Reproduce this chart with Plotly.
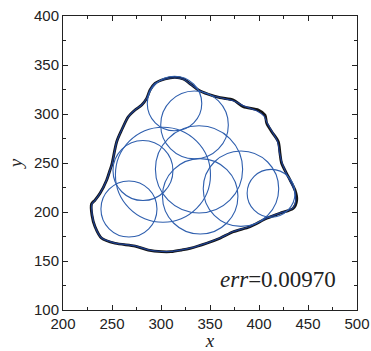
import plotly.graph_objects as go

# circles (center x, center y, radius) in data units
circle_cx = [313.8, 334.2, 338.8, 281.6, 267.3, 302.0, 340.0, 381.6, 412.3]
circle_cy = [310.7, 288.9, 243.5, 242.3, 203.1, 238.0, 216.0, 223.8, 219.1]
circle_r = [27.8, 34.5, 44.5, 30.6, 28.6, 48.5, 38.5, 38.5, 24.4]

# target boundary (black)
shape_x = [314.3, 322.8, 331.3, 338.1, 348.3, 360.2, 373.8, 384.0, 399.3, 406.1, 407.9, 413.0,
           419.7, 421.4, 423.0, 429.9, 436.7, 438.5, 435.0, 421.4, 407.9, 390.8, 373.8, 360.2,
           346.6, 329.6, 321.1, 310.0, 300.7, 287.0, 273.5, 253.1, 239.5, 232.7, 229.5, 229.1,
           232.7, 237.8, 244.6, 248.0, 249.7, 254.8, 259.9, 266.6, 273.5, 280.3, 285.4, 288.8,
           293.9, 304.1, 314.3]
shape_y = [337.4, 335.7, 329.6, 324.5, 320.1, 316.6, 314.3, 307.4, 304.1, 299.0, 290.5, 281.9,
           271.7, 260.0, 250.0, 236.0, 222.4, 212.2, 203.8, 198.7, 193.6, 185.0, 179.9, 173.2,
           168.1, 162.9, 161.2, 159.5, 159.5, 161.2, 165.3, 168.1, 173.2, 185.0, 197.0, 208.2,
           212.2, 219.1, 232.7, 242.9, 248.0, 271.7, 283.7, 297.2, 304.1, 309.2, 316.0, 324.5,
           331.3, 335.7, 337.4]

# approximation boundary (dark blue)
fit_x = [314.3, 322.8, 331.3, 338.1, 348.3, 360.2, 373.8, 385.0, 398.0, 405.0, 408.5, 413.5,
         419.0, 421.0, 423.5, 429.5, 436.0, 437.5, 434.5, 421.4, 407.9, 390.8, 373.8, 360.2,
         346.6, 329.6, 321.1, 310.0, 300.7, 287.0, 273.5, 253.1, 239.5, 232.7, 229.8, 229.6,
         233.0, 237.8, 244.6, 248.0, 249.9, 254.8, 259.9, 266.6, 273.5, 280.3, 285.4, 288.8,
         293.9, 304.1, 314.3]
fit_y = [337.0, 335.5, 329.6, 324.5, 320.1, 316.8, 313.5, 308.0, 303.0, 298.0, 290.5, 281.9,
         271.7, 260.0, 250.0, 236.0, 222.4, 212.2, 204.0, 198.9, 193.8, 185.2, 180.1, 173.4,
         168.3, 163.1, 161.4, 159.7, 159.7, 161.4, 165.5, 168.3, 173.4, 185.0, 197.0, 208.2,
         212.2, 219.1, 232.7, 242.9, 248.0, 271.7, 283.7, 297.2, 304.1, 309.2, 316.0, 324.5,
         331.3, 335.5, 337.0]

x_ticks = [200, 250, 300, 350, 400, 450, 500]
y_ticks = [100, 150, 200, 250, 300, 350, 400]
err_text = "<i>err</i>=0.00970"

fig = go.Figure()

for cx, cy, r in zip(circle_cx, circle_cy, circle_r):
    fig.add_shape(type="circle", xref="x", yref="y",
                  x0=cx - r, x1=cx + r, y0=cy - r, y1=cy + r,
                  line=dict(color="#2f5fae", width=1.1))

fig.add_trace(go.Scatter(x=shape_x, y=shape_y, mode="lines",
                         line=dict(color="#151515", width=2.8, shape="spline", smoothing=0.8),
                         showlegend=False, hoverinfo="skip"))
fig.add_trace(go.Scatter(x=fit_x, y=fit_y, mode="lines",
                         line=dict(color="#1d3f8f", width=1.2, shape="spline", smoothing=0.8),
                         showlegend=False, hoverinfo="skip"))

fig.add_annotation(x=419, y=131, xref="x", yref="y", text=err_text, showarrow=False,
                   font=dict(family="Liberation Serif", size=23, color="#222"),
                   xanchor="center", yanchor="middle")

axis_common = dict(
    showgrid=False, zeroline=False, showline=True, linecolor="#222", linewidth=1,
    mirror="allticks", ticks="inside", ticklen=5, tickwidth=1, tickcolor="#222",
    tickfont=dict(family="Liberation Sans", size=15, color="#222"),
    minor=dict(ticks="inside", ticklen=3, tickwidth=1, tickcolor="#222", dtick=25),
    automargin=False,
)

fig.update_xaxes(range=[200, 500], tickvals=x_ticks, **axis_common,
                 title=dict(text="<i>x</i>", font=dict(family="Liberation Serif", size=19, color="#222"), standoff=5))
fig.update_yaxes(range=[100, 400], tickvals=y_ticks, **axis_common,
                 title=dict(text="<i>y</i>", font=dict(family="Liberation Serif", size=19, color="#222"), standoff=6))

fig.update_layout(width=371, height=351, margin=dict(l=63, r=14, t=16, b=41),
                  plot_bgcolor="white", paper_bgcolor="white", showlegend=False)

fig.write_html("out.html")
